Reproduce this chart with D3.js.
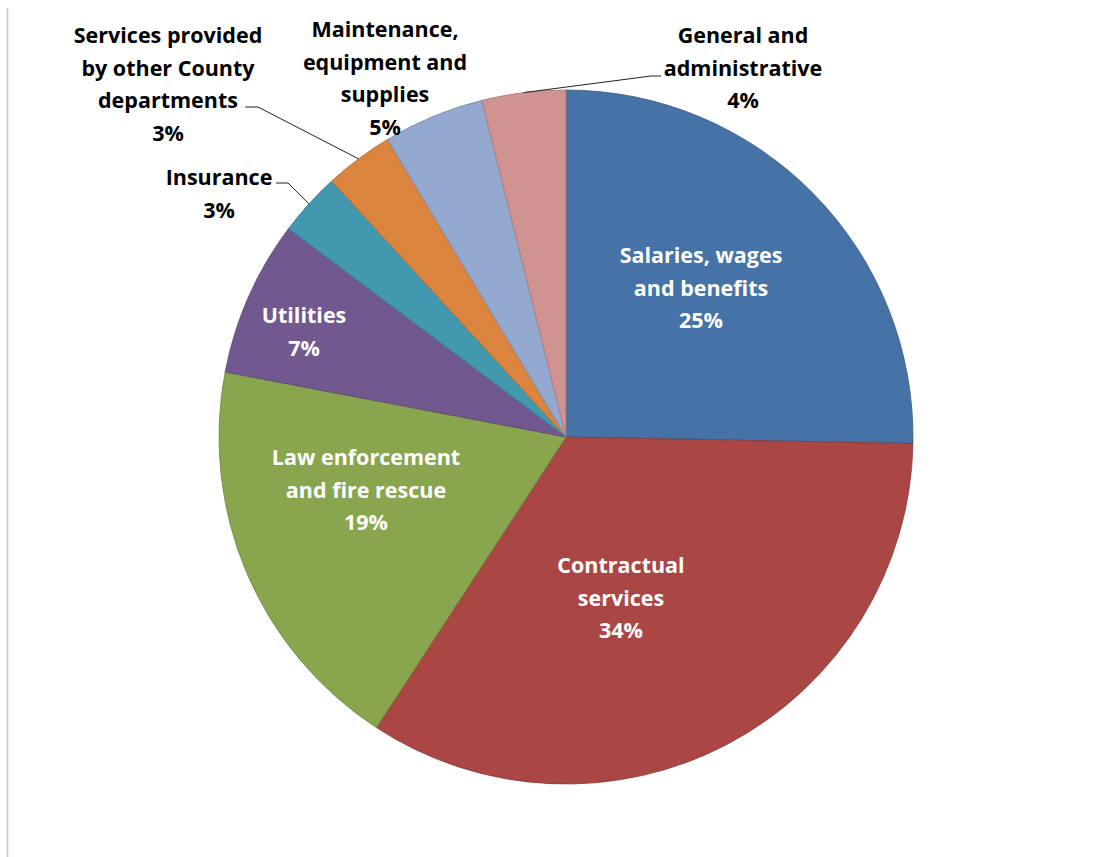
<!DOCTYPE html>
<html>
<head>
<meta charset="utf-8">
<script src="https://d3js.org/d3.v7.min.js"></script>
<style>
body{margin:0;background:#fff;}
text{font-family:"Open Sans",Lato,sans-serif;font-weight:bold;}
</style>
</head>
<body>
<div id="chart-area"></div>
<script>
var categories=["Salaries, wages and benefits","Contractual services","Law enforcement and fire rescue",
	"Utilities","Insurance","Services provided by other County departments",
	"Maintenance, equipment and supplies","General and administrative"];
var values=[25.3,33.9,18.8,7.25,2.95,3.2,4.7,3.9];
var colors=["#4572A7","#AA4643","#89A54E","#71588F","#4198AF","#DB843D","#93A9CF","#D19392"];
var labelLines=[["Salaries, wages","and benefits"],["Contractual","services"],["Law enforcement","and fire rescue"],
	["Utilities"],["Insurance"],["Services provided","by other County","departments"],
	["Maintenance,","equipment and","supplies"],["General and","administrative"]];

// label layout: x centre and first baseline, relative to the pie centre
var labelAt=[[135,-174],[55,136],[-200,28],[-262,-114],[-347,-252],[-398,-394],[-181,-400],[177,-394]];
var outside=[false,false,false,false,true,true,true,true];
// leader start (relative to pie centre), null = no leader
var leaderFrom=[null,null,null,null,[-290,-254],[-321,-330],null,[95,-361]];
var leaderStub=[0,0,0,0,12,13,0,-10];

var width=1113,height=857;
var cx=566,cy=437,radius=347;
var lineH=32.5;

var svg=d3.select("#chart-area").append("svg")
	.attr("width",width)
	.attr("height",height);

svg.append("line")
	.attr("x1",7.5).attr("x2",7.5)
	.attr("y1",8).attr("y2",height)
	.attr("stroke","#c6c6c6")
	.attr("stroke-width",1.5);

var g=svg.append("g")
	.attr("transform","translate("+cx+","+cy+")");

var pie=d3.pie().sort(null).value((d)=>{return d;});
var arcs=pie(values);

var arc=d3.arc().innerRadius(0).outerRadius(radius);

g.selectAll("path.slice")
	.data(arcs)
	.enter().append("path")
	.attr("class","slice")
	.attr("d",arc)
	.attr("fill",(d,i)=>{return colors[i];})
	.attr("stroke",(d,i)=>{return d3.color(colors[i]).darker(0.6);})
	.attr("stroke-width",0.8);

// leader lines
arcs.forEach((d,i)=>{
	if(!leaderFrom[i]) return;
	var mid=(d.startAngle+d.endAngle)/2;
	var ex=radius*Math.sin(mid),ey=-radius*Math.cos(mid);
	var s=leaderFrom[i];
	g.append("polyline")
		.attr("points",[[s[0],s[1]],[s[0]+leaderStub[i],s[1]],[ex,ey]].map((p)=>{return p.join(",");}).join(" "))
		.attr("fill","none")
		.attr("stroke","#222")
		.attr("stroke-width",1);
});

// labels
arcs.forEach((d,i)=>{
	var lines=labelLines[i].concat([Math.round(values[i])+"%"]);
	var t=g.append("text")
		.attr("text-anchor","middle")
		.attr("font-size","21.5px")
		.attr("fill",outside[i]?"#000":"#fff");
	lines.forEach((l,j)=>{
		t.append("tspan")
			.attr("x",labelAt[i][0])
			.attr("y",labelAt[i][1]+j*lineH)
			.text(l);
	});
});
</script>
</body>
</html>
